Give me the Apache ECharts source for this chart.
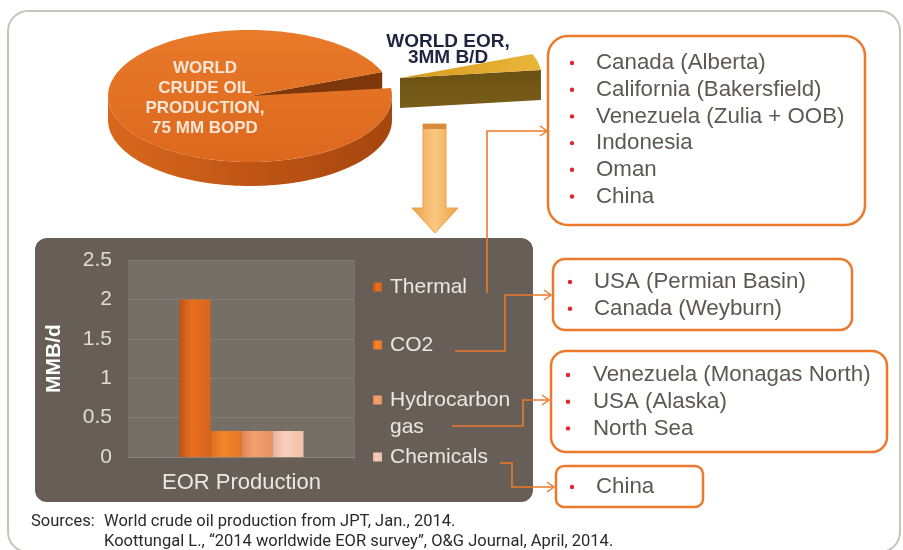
<!DOCTYPE html>
<html><head><meta charset="utf-8">
<script src="https://cdn.jsdelivr.net/npm/echarts@6/dist/echarts.min.js"></script>
<style>html,body{margin:0;padding:0;background:#fff}#c{width:903px;height:550px}</style>
</head><body><div id="c"></div>
<script>
// ---------------- data ----------------
const pieLabels = ['WORLD\nCRUDE OIL\nPRODUCTION,\n75 MM BOPD', 'WORLD EOR,\n3MM B/D'];
const worldCrude = 75;      // MM BOPD
const worldEOR = 3;         // MM B/D
const pieValues = [worldCrude - worldEOR, worldEOR];

const categories = ['EOR Production'];
const seriesNames = ['Thermal', 'CO2', 'Hydrocarbon gas', 'Chemicals'];
const thermal = [2.0];
const co2 = [0.33];
const hydrocarbon = [0.33];
const chemicals = [0.33];
const yAxisName = 'MMB/d';

const thermalRegions = ['Canada (Alberta)', 'California (Bakersfield)', 'Venezuela (Zulia + OOB)', 'Indonesia', 'Oman', 'China'];
const co2Regions = ['USA (Permian Basin)', 'Canada (Weyburn)'];
const hcRegions = ['Venezuela (Monagas North)', 'USA (Alaska)', 'North Sea'];
const chemRegions = ['China'];

const sourceLines = ['World crude oil production from JPT, Jan., 2014.', 'Koottungal L., \u201c2014 worldwide EOR survey\u201d, O&G Journal, April, 2014.'];

// ---------------- chart ----------------
const FONT = 'Liberation Sans, Arial, sans-serif';
const chart = echarts.init(document.getElementById('c'));
const LG = (a, b, c) => new echarts.graphic.LinearGradient(0, 0, 1, 0, [{offset: 0, color: a}, {offset: 0.4, color: b}, {offset: 1, color: c}]);
const barColors = [
  LG('#bf5212', '#e8701f', '#d9641a'),
  LG('#dc6c1c', '#f3852a', '#e67824'),
  LG('#e48456', '#f3a070', '#ea9262'),
  LG('#eab39b', '#f8cfbb', '#f0c0aa')
];
const ORANGE = '#ec7a2c';

// pie geometry
const P = {cx: 250, cy: 96, rx: 142, ry: 66, depth: 24, start: 7, ex: 150, ey: -18, exDepth: 30};
const pieTotal = pieValues.reduce((a, b) => a + b, 0);
const eorSpan = 360 * pieValues[1] / pieTotal;
function pt(tDeg, dx, dy, dz) {
  const t = tDeg * Math.PI / 180;
  return [P.cx + dx + P.rx * Math.cos(t), P.cy + dy - P.ry * Math.sin(t) + dz];
}
function arc(a0, a1, dx, dy, dz) {
  const pts = []; const n = Math.max(2, Math.ceil(Math.abs(a1 - a0) / 2));
  for (let i = 0; i <= n; i++) pts.push(pt(a0 + (a1 - a0) * i / n, dx, dy, dz));
  return pts;
}
function renderPie(params, api) {
  const i = params.dataIndex;
  if (i === 0) {
    const a0 = P.start + eorSpan, a1 = P.start + 360;
    const c = [P.cx, P.cy], cd = [P.cx, P.cy + P.depth];
    const r0 = pt(a0, 0, 0, 0), r0d = pt(a0, 0, 0, P.depth);
    const wallTop = arc(180, 360, 0, 0, 0), wallBot = arc(360, 180, 0, 0, P.depth);
    return {type: 'group', children: [
      {type: 'polygon', shape: {points: [c, r0, r0d, cd]}, style: {fill: '#7e370b'}},
      {type: 'polygon', shape: {points: wallTop.concat(wallBot)}, style: {fill: new echarts.graphic.LinearGradient(0, 0, 1, 0, [{offset: 0, color: '#d9681e'}, {offset: 0.5, color: '#c05515'}, {offset: 1, color: '#a5460e'}])}},
      {type: 'polygon', shape: {points: [c].concat(arc(a0, a1, 0, 0, 0))}, style: {fill: new echarts.graphic.LinearGradient(0, 0, 0, 1, [{offset: 0, color: '#e97a2a'}, {offset: 1, color: '#dc681d'}])}}
    ]};
  } else {
    const a0 = P.start, a1 = P.start + eorSpan;
    const c = [P.cx + P.ex, P.cy + P.ey], cd = [P.cx + P.ex, P.cy + P.ey + P.exDepth];
    const r0 = pt(a0, P.ex, P.ey, 0), r0d = pt(a0, P.ex, P.ey, P.exDepth);
    return {type: 'group', children: [
      {type: 'polygon', shape: {points: [c, r0, r0d, cd]}, style: {fill: new echarts.graphic.LinearGradient(0, 0, 0, 1, [{offset: 0, color: '#6a5012'}, {offset: 1, color: '#7a5d1a'}])}},
      {type: 'polygon', shape: {points: [c].concat(arc(a0, a1, P.ex, P.ey, 0))}, style: {fill: new echarts.graphic.LinearGradient(0, 0, 1, 0, [{offset: 0, color: '#d99a1e'}, {offset: 1, color: '#eab63a'}])}}
    ]};
  }
}

// graphic elements
const g = [];
g.push({type: 'rect', z: -20, shape: {x: 8, y: 11, width: 892, height: 541, r: 20}, style: {fill: '#fff', stroke: '#c8c3bd', lineWidth: 2}});
g.push({type: 'rect', z: -10, shape: {x: 35, y: 238, width: 498, height: 264, r: 12}, style: {fill: '#675f57'}});
// down arrow
g.push({type: 'polygon', z: 5, shape: {points: [[423, 124], [446, 124], [446, 208], [458, 208], [435, 233], [412, 208], [423, 208]]},
  style: {fill: new echarts.graphic.LinearGradient(0, 0, 1, 0, [{offset: 0, color: '#efa046'}, {offset: 0.5, color: '#f9c882'}, {offset: 1, color: '#eea043'}]), stroke: '#e9a048', lineWidth: 1}});
g.push({type: 'rect', z: 6, shape: {x: 423, y: 124, width: 23, height: 5}, style: {fill: '#d98a3a'}});
// pie labels
g.push({type: 'text', z: 10, style: {text: pieLabels[0], x: 205, y: 98, align: 'center', verticalAlign: 'middle', fill: '#f7e6d6', font: 'bold 17px ' + FONT, lineHeight: 20}});
g.push({type: 'text', z: 10, style: {text: pieLabels[1], x: 448, y: 50, align: 'center', verticalAlign: 'middle', fill: '#1d2540', font: 'bold 19px ' + FONT, lineHeight: 16.5}});
// boxes
const boxes = [
  {items: thermalRegions, x: 548, y: 36, w: 317, h: 189, r: 20, y0: 63, tx: 596, bx: 572},
  {items: co2Regions, x: 553, y: 259, w: 299, h: 71, r: 12, y0: 282, tx: 594, bx: 570},
  {items: hcRegions, x: 551, y: 351, w: 336, h: 101, r: 15, y0: 375, tx: 593, bx: 568},
  {items: chemRegions, x: 556, y: 466, w: 147, h: 41, r: 8, y0: 487, tx: 596, bx: 572}
];
const LINE = 26.7;
boxes.forEach(b => {
  g.push({type: 'rect', z: 3, shape: {x: b.x, y: b.y, width: b.w, height: b.h, r: b.r}, style: {fill: '#fff', stroke: ORANGE, lineWidth: 2.5}});
  b.items.forEach((t, k) => {
    const y = b.y0 + k * LINE;
    g.push({type: 'circle', z: 4, shape: {cx: b.bx, cy: y, r: 2.2}, style: {fill: '#e0262d'}});
    g.push({type: 'text', z: 4, style: {text: t, x: b.tx, y: y, verticalAlign: 'middle', fill: '#5e5853', font: '22.3px ' + FONT}});
  });
});
// connectors
const conns = [
  [[487, 293], [487, 131], [547, 131]],
  [[455, 351], [505, 351], [505, 295], [551, 295]],
  [[452, 426], [523, 426], [523, 400], [549, 400]],
  [[500, 463], [512, 463], [512, 487], [554, 487]]
];
conns.forEach(c => {
  const e = c[c.length - 1];
  g.push({type: 'polyline', z: 8, shape: {points: c}, style: {stroke: ORANGE, lineWidth: 1.6, fill: null}});
  g.push({type: 'polyline', z: 8, shape: {points: [[e[0] - 7, e[1] - 5], e, [e[0] - 7, e[1] + 5]]}, style: {stroke: ORANGE, lineWidth: 1.4, fill: null}});
});
// 'gas' second line of legend
g.push({type: 'text', z: 10, style: {text: 'gas', x: 390, y: 427, verticalAlign: 'middle', fill: '#ece6e0', font: '21px ' + FONT}});
// sources
g.push({type: 'text', z: 10, style: {text: 'Sources:', x: 31, y: 522, verticalAlign: 'middle', fill: '#2a2a2a', font: '16.5px Roboto, ' + FONT}});
sourceLines.forEach((s, k) => g.push({type: 'text', z: 10, style: {text: s, x: 104, y: 522 + k * 20, verticalAlign: 'middle', fill: '#2a2a2a', font: '16.5px Roboto, ' + FONT}}));

const legendTops = [287, 345, 400, 457];
const legends = seriesNames.map((n, k) => ({
  data: [n], left: 373, top: legendTops[k] - 12, padding: 0, itemWidth: 9, itemHeight: 9, icon: 'rect', selectedMode: false,
  formatter: k === 2 ? () => 'Hydrocarbon' : '{name}',
  textStyle: {color: '#ece6e0', fontSize: 21, lineHeight: 24, fontFamily: FONT, padding: [0, 0, 0, 3]}
}));

const seriesData = [thermal, co2, hydrocarbon, chemicals];
const barSeries = seriesNames.map((n, k) => ({
  type: 'bar', name: n, data: seriesData[k], barWidth: 31, barGap: '0%',
  itemStyle: {color: barColors[k]}, z: 3
}));

chart.setOption({
  animation: false,
  textStyle: {fontFamily: FONT},
  graphic: {elements: g},
  legend: legends,
  grid: {left: 128, top: 260, width: 227, height: 197, show: true, backgroundColor: '#766f68', borderWidth: 0},
  xAxis: {type: 'category', data: categories, axisTick: {show: false},
    axisLine: {lineStyle: {color: '#8b847d'}},
    axisLabel: {color: '#ede7e1', fontSize: 22, margin: 15, fontFamily: FONT}},
  yAxis: {type: 'value', min: 0, max: 2.5, interval: 0.5, name: yAxisName, nameLocation: 'middle', nameGap: 63, nameRotate: 90,
    nameTextStyle: {color: '#ffffff', fontSize: 21, fontWeight: 'bold', fontFamily: FONT},
    axisLabel: {color: '#e2dbd4', fontSize: 21, margin: 16, fontFamily: FONT},
    splitLine: {lineStyle: {color: '#857e77'}}},
  series: barSeries.concat([{
    type: 'custom', coordinateSystem: 'none', renderItem: renderPie, z: 4,
    data: pieValues.map((v, i) => ({name: pieLabels[i], value: v}))
  }])
});
</script></body></html>
